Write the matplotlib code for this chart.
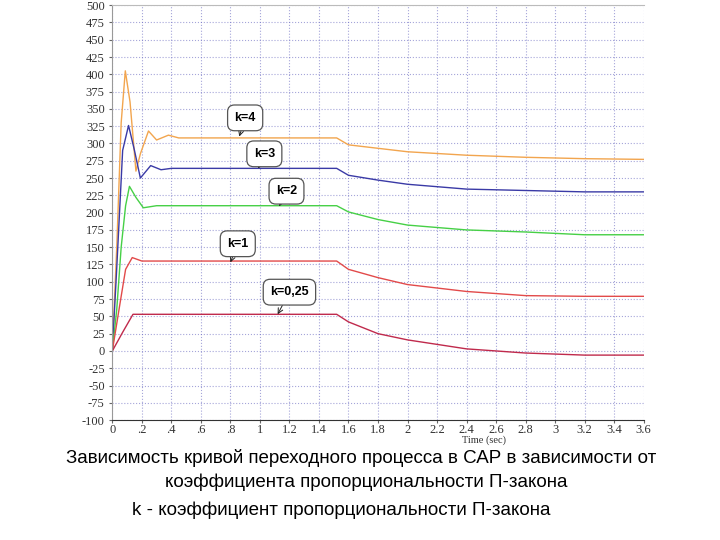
import matplotlib
matplotlib.use('Agg')
import matplotlib.pyplot as plt

plt.rcParams['axes.unicode_minus'] = False

# time (s) / output values
t_k4 = [0, 0.03, 0.06, 0.088, 0.12, 0.16, 0.19, 0.245, 0.3, 0.38, 0.45, 1.52, 1.6, 2.0, 2.4, 2.8, 3.2, 3.6]
v_k4 = [0, 150, 330, 405, 360, 260, 285, 318, 305, 312, 308, 308, 298, 288, 283, 280, 278, 277]

t_k3 = [0, 0.03, 0.07, 0.11, 0.15, 0.19, 0.26, 0.33, 0.4, 1.52, 1.6, 1.8, 2.0, 2.4, 2.8, 3.2, 3.6]
v_k3 = [0, 120, 290, 326, 290, 250, 268, 262, 264, 264, 254, 247, 241, 234, 232, 230, 230]

t_k2 = [0, 0.03, 0.06, 0.09, 0.116, 0.16, 0.21, 0.3, 0.4, 1.52, 1.6, 1.8, 2.0, 2.4, 2.8, 3.2, 3.6]
v_k2 = [0, 60, 150, 210, 238, 222, 207, 210, 210, 210, 201, 190, 182, 175, 172, 168, 168]

t_k1 = [0, 0.05, 0.09, 0.135, 0.2, 0.3, 1.52, 1.6, 1.8, 2.0, 2.4, 2.8, 3.2, 3.6]
v_k1 = [0, 66, 118, 135, 130, 130, 130, 118, 106, 96, 86, 80, 79, 79]

t_k025 = [0, 0.07, 0.14, 0.2, 1.52, 1.6, 1.8, 2.0, 2.4, 2.8, 3.2, 3.6]
v_k025 = [0, 27, 53, 53, 53, 42, 25, 16, 3, -3, -6, -6]

labels = ['k=4', 'k=3', 'k=2', 'k=1', 'k=0,25']
# annotation tip (t, v) and box centre (t, v)
tips = [(0.86, 310), (0.99, 264), (1.13, 209), (0.80, 128), (1.12, 53)]
boxes = [(0.90, 337), (1.03, 285), (1.18, 231), (0.85, 155), (1.20, 85)]

xticks = [0, 0.2, 0.4, 0.6, 0.8, 1, 1.2, 1.4, 1.6, 1.8, 2, 2.2, 2.4, 2.6, 2.8, 3, 3.2, 3.4, 3.6]
xticklabels = ['0', '.2', '.4', '.6', '.8', '1', '1.2', '1.4', '1.6', '1.8', '2', '2.2',
               '2.4', '2.6', '2.8', '3', '3.2', '3.4', '3.6']
yticks = list(range(-100, 501, 25))

caption1 = 'Зависимость кривой переходного процесса в САР в зависимости от'
caption2 = 'коэффициента пропорциональности П-закона'
caption3 = 'k - коэффициент пропорциональности П-закона'


def main():
    fig = plt.figure(figsize=(7.2, 5.4), dpi=100)
    ax = fig.add_axes([0.156, 0.222, 0.738, 0.7685])

    series = [(t_k4, v_k4, '#f2a54e'), (t_k3, v_k3, '#3a3aa6'), (t_k2, v_k2, '#46d046'),
              (t_k1, v_k1, '#e24a4a'), (t_k025, v_k025, '#c02a4c')]
    for t, v, c in series:
        ax.plot(t, v, color=c, lw=1.0)

    for lab, tip, box in zip(labels, tips, boxes):
        ax.annotate(lab, xy=tip, xytext=box, ha='center', va='center',
                    fontsize=9, fontweight='bold', family='Liberation Sans',
                    bbox=dict(boxstyle='round,pad=0.55', fc='white', ec='#555555', lw=0.9),
                    arrowprops=dict(arrowstyle='->', color='#222222', lw=0.7,
                                    shrinkA=0, shrinkB=0))

    ax.set_xlim(0, 3.6)
    ax.set_ylim(-100, 500)
    ax.set_xticks(xticks)
    ax.set_xticklabels(xticklabels)
    ax.set_yticks(yticks)
    ax.tick_params(labelsize=9, length=2, color='#666666', labelcolor='#333333')
    ax.tick_params(axis='x', pad=1)
    for lab in ax.get_xticklabels() + ax.get_yticklabels():
        lab.set_family('Liberation Serif')
    ax.grid(True, color='#6a6ac0', ls=':', lw=0.8, alpha=0.6)
    ax.set_xlabel('Time (sec)', fontsize=7.5, family='Liberation Serif', color='#333333')
    ax.xaxis.set_label_coords(0.70, -0.036)

    ax.spines['right'].set_visible(False)
    ax.spines['top'].set_color('#bbbbbb')
    ax.spines['left'].set_color('#999999')
    ax.spines['bottom'].set_color('#333333')

    fig.text(0.501, 1 - 458 / 540, caption1, ha='center', va='center', fontsize=13.5, family='Liberation Sans')
    fig.text(0.508, 1 - 482 / 540, caption2, ha='center', va='center', fontsize=13.5, family='Liberation Sans')
    fig.text(0.474, 1 - 510 / 540, caption3, ha='center', va='center', fontsize=13.5, family='Liberation Sans')

    fig.savefig('out.png', dpi=100)


if __name__ == '__main__':
    main()
